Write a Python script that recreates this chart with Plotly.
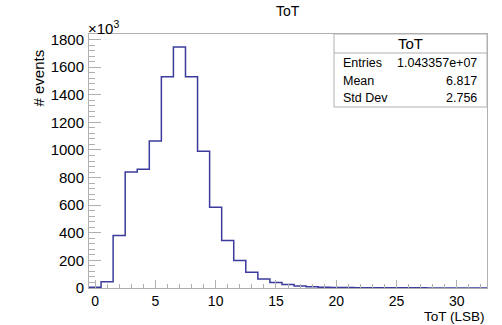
import plotly.graph_objects as go

# Histogram data (bin centers, counts in units of 10^3)
bin_centers = list(range(0, 33))
counts_k = [5, 45, 380, 840, 860, 1065, 1530, 1745, 1530, 990, 585, 345, 200, 115, 65,
            40, 25, 15, 9, 6, 4, 3, 2, 2, 1.5, 1, 1, 1, 0.5, 0.5, 0.5, 0.5, 0.5]
bin_width = 1.0

stats_labels = ["Entries", "Mean", "Std Dev"]
stats_values = ["1.043357e+07", "6.817", "2.756"]
hist_name = "ToT"

# Build step outline from bin edges
edges = [c - bin_width / 2 for c in bin_centers] + [bin_centers[-1] + bin_width / 2]
ys = counts_k + [counts_k[-1]]

W, H = 502, 325
L, R, T, B = 89, 15, 34, 37
pw, ph = W - L - R, H - T - B

def px(x):
    return (x - L) / pw

def py(y):
    return (H - B - y) / ph

fig = go.Figure()
fig.add_trace(go.Scatter(
    x=edges, y=ys, mode="lines", line=dict(shape="hv", color="#3b3b9e", width=1.5),
    hoverinfo="skip", showlegend=False))

font = "Liberation Sans, Arial, Helvetica, sans-serif"
axis_common = dict(showgrid=False, zeroline=False, showline=True, linecolor="#b0b0b0",
                   linewidth=1, mirror=True, ticks="inside", tickcolor="#b0b0b0")

fig.update_xaxes(range=[-0.5, 32.5], dtick=5, tick0=0, ticklen=8, ticklabelstandoff=0,
                 tickfont=dict(family=font, size=14, color="black"),
                 minor=dict(dtick=1, ticks="inside", ticklen=4, tickcolor="#b0b0b0"),
                 **axis_common)
fig.update_yaxes(range=[0, 1840], dtick=200, tick0=0, ticklen=12, ticklabelstandoff=1,
                 tickfont=dict(family=font, size=15, color="black"),
                 minor=dict(dtick=40, ticks="inside", ticklen=6, tickcolor="#b0b0b0"),
                 **axis_common)

annotations = [
    dict(text="ToT", x=0.5, xref="paper", y=py(11), yref="paper", showarrow=False,
         font=dict(family=font, size=14, color="black"), xanchor="center", yanchor="middle"),
    dict(text="×10<sup>3</sup>", x=px(86), xref="paper", y=py(27), yref="paper", showarrow=False,
         font=dict(family=font, size=15, color="black"), xanchor="left", yanchor="middle"),
    dict(text="# events", x=px(38), xref="paper", y=py(48), yref="paper", showarrow=False,
         textangle=-90, font=dict(family=font, size=15, color="black"),
         xanchor="center", yanchor="top"),
    dict(text="ToT (LSB)", x=1, xref="paper", y=py(326), yref="paper", showarrow=False,
         font=dict(family=font, size=13.5, color="black"), xanchor="right", yanchor="bottom"),
    dict(text=hist_name, x=(px(334) + 1) / 2, xref="paper", y=py(43), yref="paper",
         showarrow=False, font=dict(family=font, size=15, color="black"),
         xanchor="center", yanchor="middle"),
]
row_y = [63, 81, 98]
for lab, val, yy in zip(stats_labels, stats_values, row_y):
    annotations.append(dict(text=lab, x=px(341), xref="paper", y=py(yy), yref="paper",
                            showarrow=False, font=dict(family=font, size=12.5, color="black"),
                            xanchor="left", yanchor="middle"))
    annotations.append(dict(text=val, x=px(479), xref="paper", y=py(yy), yref="paper",
                            showarrow=False, font=dict(family=font, size=12.5, color="black"),
                            xanchor="right", yanchor="middle"))

shapes = [
    dict(type="rect", xref="paper", yref="paper", x0=px(334), x1=1, y0=py(107), y1=1,
         line=dict(color="#b0b0b0", width=1), fillcolor="white", layer="above"),
    dict(type="line", xref="paper", yref="paper", x0=px(334), x1=1, y0=py(53), y1=py(53),
         line=dict(color="#b0b0b0", width=1)),
]

fig.update_layout(width=W, height=H, margin=dict(l=L, r=R, t=T, b=B),
                  paper_bgcolor="white", plot_bgcolor="white",
                  annotations=annotations, shapes=shapes, showlegend=False)

fig.write_html("out.html")
